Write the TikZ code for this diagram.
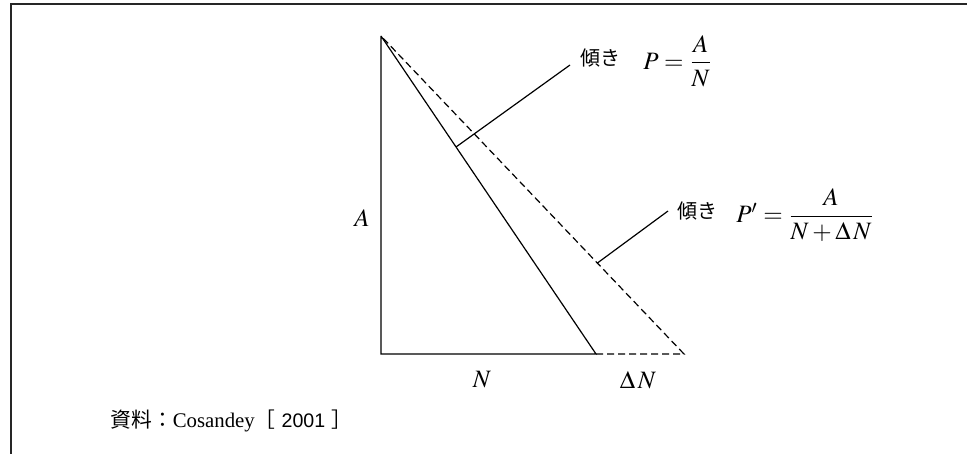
\documentclass[tikz,border=0pt]{standalone}
\usepackage{amsmath}
\usepackage{mathptmx}
\usepackage{fontspec}
\setmainfont{Liberation Serif}
\setsansfont{Liberation Sans}
\newfontfamily\cjk{Noto Sans CJK JP}
\usetikzlibrary{calc}
\begin{document}
\begin{tikzpicture}[x=0.5pt,y=-0.5pt,
  tri/.style={line width=0.6pt},
  dsh/.style={line width=0.6pt, dash pattern=on 3.5pt off 2pt},
  lbl/.style={inner sep=0pt},
  mth/.style={inner sep=0pt, font=\fontsize{12.5}{15}\selectfont},
  jp/.style={inner sep=0pt, font=\fontsize{10}{12}\selectfont\cjk},
  frame/.style={line width=0.9pt, draw=black!85}]
\useasboundingbox (0,0) rectangle (967,454);
\draw[frame] (11,454) -- (11,4) -- (967,4);
\coordinate (apex) at (381,36);
\coordinate (corner) at (381,354);
\coordinate (B) at (596,354);
\coordinate (C) at (684,354);
\draw[tri] (apex) -- (corner) -- (B) -- (apex);
\draw[dsh] (B) -- (C) -- (apex);
\coordinate (L1a) at ($(apex)!0.349!(B)$);
\coordinate (L1b) at (570,65);
\coordinate (L2a) at ($(apex)!0.714!(C)$);
\coordinate (L2b) at (668,211);
\draw[tri] (L1a) -- (L1b);
\draw[tri] (L2a) -- (L2b);
\node[jp] (k1) at (600,58) {傾き};
\node[mth,anchor=west] (f1) at (643,61) {$P=\dfrac{A}{N}$};
\node[jp] (k2) at (697,211) {傾き};
\node[mth,anchor=west] (f2) at (736,215) {$P'=\dfrac{A}{N+\Delta\mkern2mu N}$};
\node[mth] (lA) at (362,218) {$A$};
\node[mth] (lN) at (482,380) {$N$};
\node[mth] (lDN) at (638,380) {$\Delta\mkern2mu N$};
\node[lbl,anchor=west,font=\fontsize{10.4}{12}\selectfont] (src) at (110,421)
  {{\cjk 資料：}Cosandey{\cjk［}\kern3pt{\sffamily\fontsize{9.8}{12}\selectfont 2001}\kern3pt{\cjk ］}};
\end{tikzpicture}
\end{document}
